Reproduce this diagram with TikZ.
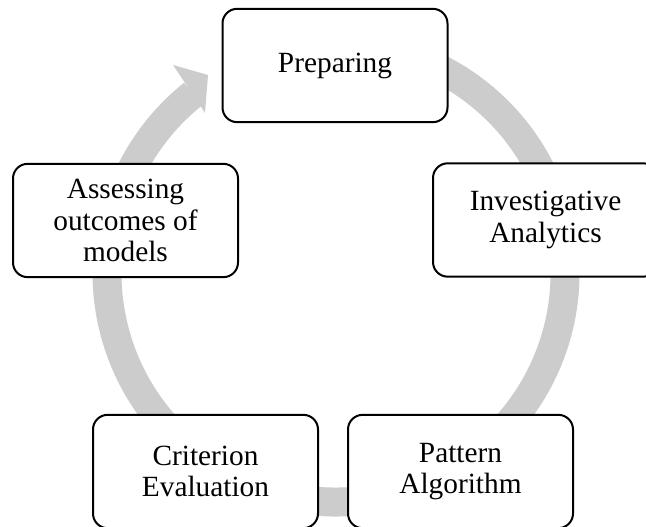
\documentclass[tikz,border=0pt]{standalone}
\usepackage{fontspec}
\setmainfont{Liberation Serif}
\definecolor{arcgray}{RGB}{204,204,204}
\begin{document}
\begin{tikzpicture}[x=0.75pt,y=0.75pt,
  stagebox/.style={draw=black, line width=1.5pt, fill=white, rounded corners=11pt,
    minimum width=168.75pt, minimum height=85pt, inner sep=0pt, align=center,
    font=\fontsize{22}{23.5}\selectfont}]
\clip (0,0) rectangle (646,527);
\coordinate (c) at (336,254);
% big circular arrow
\draw[line width=21.75pt, draw=arcgray] (c) ++(100:171.75pt) arc[start angle=100, end angle=-231.4, radius=171.75pt];
\fill[arcgray] (173,462) -- (208,452) -- (205,414) -- cycle;
% stages
\node[stagebox] (prep) at (335,461.5) {Preparing};
\node[stagebox] (inv) at (545.5,307) {Investigative\\Analytics};
\node[stagebox] (pat) at (460.5,55.5) {Pattern\\Algorithm};
\node[stagebox] (crit) at (205.5,55.5) {Criterion\\Evaluation};
\node[stagebox] (assess) at (125.5,306.5) {Assessing\\outcomes of\\models};
\end{tikzpicture}
\end{document}
